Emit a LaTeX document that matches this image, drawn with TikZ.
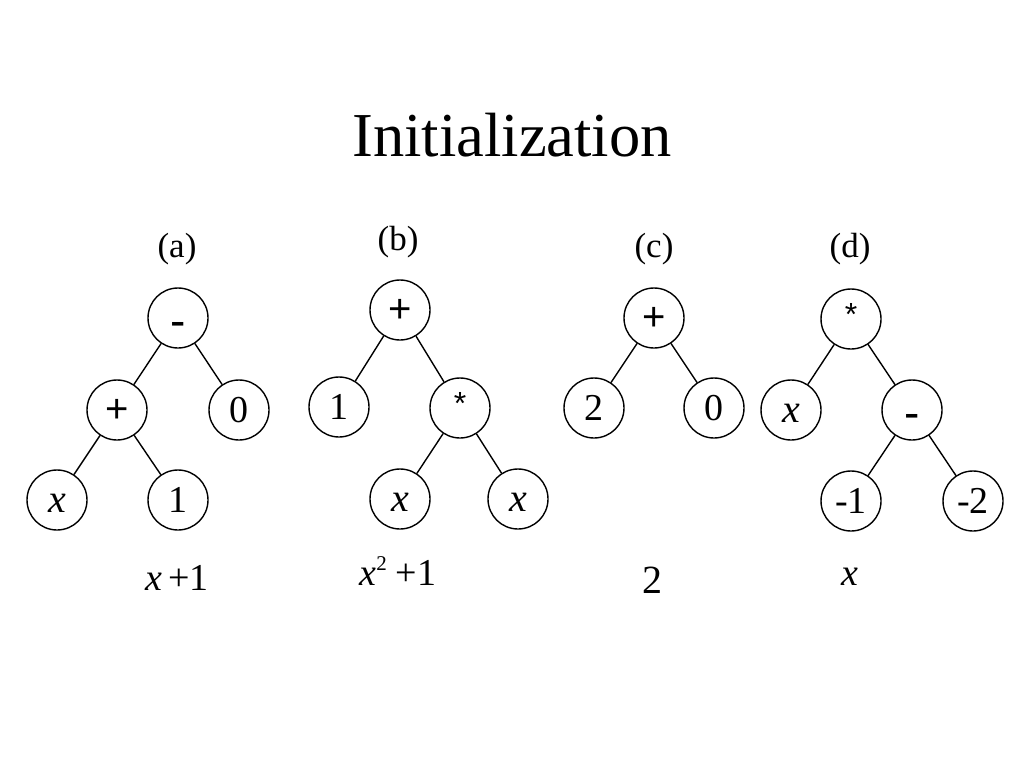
\documentclass[tikz,border=0pt]{standalone}
\usepackage{fontspec}
\setmainfont{Liberation Serif}
\newfontfamily\opfont{Liberation Sans}
\begin{document}
\begin{tikzpicture}[x=1pt,y=-1pt,
  tnode/.style={circle,draw,line width=1.4pt,minimum size=60pt,inner sep=0pt,
    text height=25pt,text depth=0pt,
    font=\fontsize{38}{40}\selectfont},
  xnode/.style={tnode,font=\fontsize{40}{42}\selectfont\itshape},
  opnode/.style={tnode,font=\opfont\fontsize{40}{42}\selectfont},
  minusnode/.style={tnode,font=\opfont\fontsize{46}{48}\selectfont},
  starnode/.style={tnode,font=\opfont\fontsize{32}{34}\selectfont},
  edge/.style={line width=1.4pt},
  lbl/.style={anchor=base,inner sep=0pt,font=\fontsize{35}{38}\selectfont},
  expr/.style={anchor=base,inner sep=0pt,font=\fontsize{38}{40}\selectfont}]
\useasboundingbox (0,0) rectangle (1024,768);
\fill[white] (0,0) rectangle (1024,768);
\node[inner sep=0pt,font=\fontsize{62.5}{66}\selectfont] (title) at (512,135) {Initialization};

% (a)
\node[lbl] (la) at (177,257) {(a)};
\node[minusnode] (a1) at (178,318) {\raisebox{-6pt}{-}};
\node[opnode] (a2) at (117,410) {+};
\node[tnode] (a3) at (239,410) {0};
\node[xnode] (a4) at (57,500) {x};
\node[tnode] (a5) at (178,500) {1};
\draw[edge] (a1) -- (a2);
\draw[edge] (a1) -- (a3);
\draw[edge] (a2) -- (a4);
\draw[edge] (a2) -- (a5);
\node[expr] (ea) at (177,590) {{\itshape x}\hspace{6pt}+1};

% (b)
\node[lbl] (lb) at (398,250) {(b)};
\node[opnode] (b1) at (400,310) {+};
\node[tnode] (b2) at (339,407) {1};
\node[starnode] (b3) at (460,408) {\raisebox{6pt}{*}};
\node[xnode] (b4) at (400,499) {x};
\node[xnode] (b5) at (518,499) {x};
\draw[edge] (b1) -- (b2);
\draw[edge] (b1) -- (b3);
\draw[edge] (b3) -- (b4);
\draw[edge] (b3) -- (b5);
\node[expr] (eb) at (398,585) {{\itshape x}\raisebox{15pt}{\fontsize{21}{22}\selectfont 2}\hspace{9pt}+1};

% (c)
\node[lbl] (lc) at (654,257) {(c)};
\node[opnode] (c1) at (654,318) {+};
\node[tnode] (c2) at (594,408) {2};
\node[tnode] (c3) at (714,408) {0};
\draw[edge] (c1) -- (c2);
\draw[edge] (c1) -- (c3);
\node[expr,font=\fontsize{40}{42}\selectfont] (ec) at (652,593) {2};

% (d)
\node[lbl] (ld) at (850,257) {(d)};
\node[starnode] (d1) at (851,319) {\raisebox{6pt}{*}};
\node[xnode] (d2) at (791,410) {x};
\node[minusnode] (d3) at (912,410) {\raisebox{-6pt}{-}};
\node[tnode] (d4) at (851,501) {-1};
\node[tnode] (d5) at (973,501) {-2};
\draw[edge] (d1) -- (d2);
\draw[edge] (d1) -- (d3);
\draw[edge] (d3) -- (d4);
\draw[edge] (d3) -- (d5);
\node[expr,font=\fontsize{38}{40}\selectfont] (ed) at (850,585) {\itshape x};
\end{tikzpicture}
\end{document}
